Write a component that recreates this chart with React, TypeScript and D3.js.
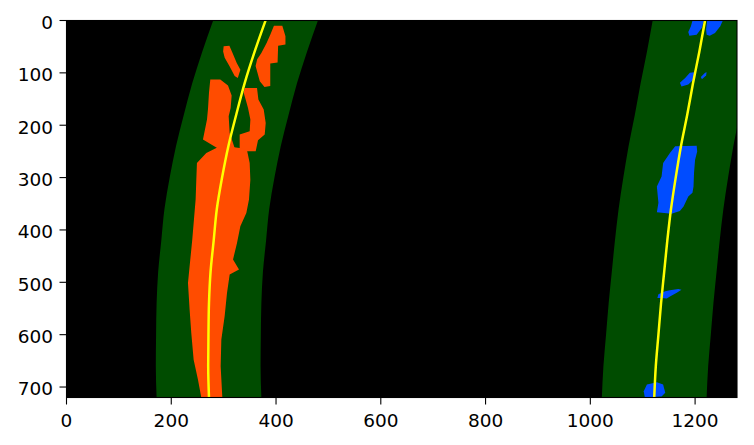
import React from "react";
import * as d3 from "d3";

// image rows (y) at which the fitted lane lines were read
const fitRows = [0, 60, 120, 180, 240, 300, 360, 420, 480, 540, 600, 660, 720];
// fitted left lane line x (image pixel columns)
const leftFitX = [380, 359, 340, 324, 309, 297, 287, 281, 275, 272, 271, 270.5, 272];
// fitted right lane line x
const rightFitX = [1219, 1208, 1196, 1185, 1173, 1163, 1154, 1147, 1141, 1135, 1130, 1125, 1122];
// search window half-width around each fit
const windowMargin = 100;

// detected left-lane pixel regions (x, y) in image coordinates
const leftBlobA: [number, number][] = [[300, 49], [311, 48], [317, 62], [325, 81], [332, 94], [327, 110], [321, 106], [311, 87], [302, 71], [299, 59]];
const leftBlobB: [number, number][] = [[396, 10], [412, 10], [418, 30], [418, 46], [404, 48], [403, 80], [389, 82], [389, 125], [378, 127], [369, 116], [361, 87], [364, 74], [372, 62], [382, 43], [389, 27]];
const leftBlobC: [number, number][] = [[274.5, 112.8], [293.6, 112.8], [308.3, 124.2], [315.3, 143.3], [313.4, 166.9], [309.6, 182.8], [311.5, 214.7], [321, 243.3], [292.4, 246.5], [260.5, 227.4], [268.2, 189.2], [270.1, 168.8], [272, 138.2]];
const leftBlobD: [number, number][] = [[340.1, 128.7], [363.7, 128.7], [366.3, 151], [376.5, 170.1], [380.3, 195.6], [378.4, 217.9], [365.6, 228.7], [361.2, 249.7], [330.6, 249.7], [330.6, 217.9], [349.7, 211.5], [351, 189.2], [346.5, 166.9], [342, 151], [338.2, 138.2]];
const leftBlobE: [number, number][] = [[295.5, 238.9], [330.6, 243.3], [344.6, 247.8], [349.7, 272], [351, 303.9], [348.4, 342], [343.3, 367.4], [331.9, 392.9], [325.5, 424.7], [317.9, 456.6], [329.3, 475.7], [311.5, 485.2], [306.4, 520.3], [301.9, 564.8], [295.6, 609.4], [294.3, 660.4], [297.5, 720], [257.3, 720], [251, 686], [242.7, 647.7], [238.2, 596.7], [235, 552.1], [231.9, 501.2], [236.3, 456.6], [240.1, 418.3], [243.3, 380.1], [246.5, 342], [247.8, 303.9], [249, 272], [266.9, 252.9]];

// detected right-lane pixel regions
const rightBlob1: [number, number][] = [[1195, 0], [1217, 0], [1213, 14], [1203, 27], [1189, 29], [1187, 22], [1192, 11]];
const rightBlob2: [number, number][] = [[1223, 0], [1253, 0], [1248, 11], [1238, 24], [1228, 29], [1222, 27], [1221, 17]];
const rightBlob3: [number, number][] = [[1190, 100], [1198, 99], [1200, 110], [1187, 122], [1174, 126], [1171, 119], [1181, 110]];
const rightBlob4: [number, number][] = [[1219, 100], [1222, 99], [1221, 105], [1213, 112], [1211, 108]];
const rightBlob5: [number, number][] = [[1162, 240], [1203, 239], [1204, 250], [1200, 266], [1198, 291], [1197, 317], [1195, 329], [1187, 336], [1178, 355], [1171, 364], [1155, 369], [1127, 366], [1130, 348], [1127, 317], [1136, 298], [1139, 272], [1152, 253]];
const rightBlob6: [number, number][] = [[1130, 523], [1143, 517], [1152, 515], [1168, 513], [1174, 514], [1165, 520], [1152, 527], [1146, 531], [1136, 530], [1128, 530]];
const rightBlob7: [number, number][] = [[1108, 695], [1127, 691], [1139, 695], [1143, 711], [1136, 718], [1104, 720], [1102, 708]];

const leftBlobs = [leftBlobA, leftBlobB, leftBlobC, leftBlobD, leftBlobE];
const rightBlobs = [rightBlob1, rightBlob2, rightBlob3, rightBlob4, rightBlob5, rightBlob6, rightBlob7];

const xTicks = [0, 200, 400, 600, 800, 1000, 1200];
const yTicks = [0, 100, 200, 300, 400, 500, 600, 700];

export default function App() {
  const W = 754, H = 445;
  const L = 66.5, R = 737, T = 20.5, B = 397.5;
  const x = d3.scaleLinear().domain([0, 1280]).range([L, R]);
  const y = d3.scaleLinear().domain([0, 720]).range([T, B]);
  const idx = fitRows.map((_, i) => i);

  const band = (fx: number[]) =>
    d3.area<number>()
      .y((i) => y(fitRows[i]))
      .x0((i) => x(fx[i] - windowMargin))
      .x1((i) => x(fx[i] + windowMargin))
      .curve(d3.curveMonotoneY)(idx) || "";
  const fitLine = (fx: number[]) =>
    d3.line<number>()
      .y((i) => y(fitRows[i]))
      .x((i) => x(fx[i]))
      .curve(d3.curveMonotoneY)(idx) || "";
  const blob = d3.line<[number, number]>()
    .x((d) => x(d[0]))
    .y((d) => y(d[1]))
    .curve(d3.curveLinearClosed);

  const font = "DejaVu Sans, sans-serif";
  const fs = 18.5;
  return (
    <svg width={W} height={H} style={{ position: "absolute", left: 0, top: 0, background: "#fff" }}>
      <defs>
        <clipPath id="plotclip">
          <rect x={L} y={T} width={R - L} height={B - T} />
        </clipPath>
      </defs>
      <g clipPath="url(#plotclip)">
        <rect x={L} y={T} width={R - L} height={B - T} fill="#000" />
        <path d={band(leftFitX)} fill="#004c00" />
        <path d={band(rightFitX)} fill="#004c00" />
        {leftBlobs.map((b, i) => (
          <path key={"l" + i} d={blob(b) || ""} fill="#ff4c00" />
        ))}
        {rightBlobs.map((b, i) => (
          <path key={"r" + i} d={blob(b) || ""} fill="#004cff" />
        ))}
        <path d={fitLine(leftFitX)} fill="none" stroke="#ffff00" strokeWidth={2.5} />
        <path d={fitLine(rightFitX)} fill="none" stroke="#ffff00" strokeWidth={2.5} />
      </g>
      <rect x={L} y={T} width={R - L} height={B - T} fill="none" stroke="#000" strokeWidth={1.1} />
      {xTicks.map((t) => (
        <g key={"x" + t}>
          <line x1={x(t)} x2={x(t)} y1={B} y2={B + 7} stroke="#000" strokeWidth={1.1} />
          <text x={x(t)} y={426.5} textAnchor="middle" fontFamily={font} fontSize={fs} fill="#000">
            {t}
          </text>
        </g>
      ))}
      {yTicks.map((t) => (
        <g key={"y" + t}>
          <line x1={L - 7} x2={L} y1={y(t)} y2={y(t)} stroke="#000" strokeWidth={1.1} />
          <text x={53} y={y(t) + 8.3} textAnchor="end" fontFamily={font} fontSize={fs} fill="#000">
            {t}
          </text>
        </g>
      ))}
    </svg>
  );
}
